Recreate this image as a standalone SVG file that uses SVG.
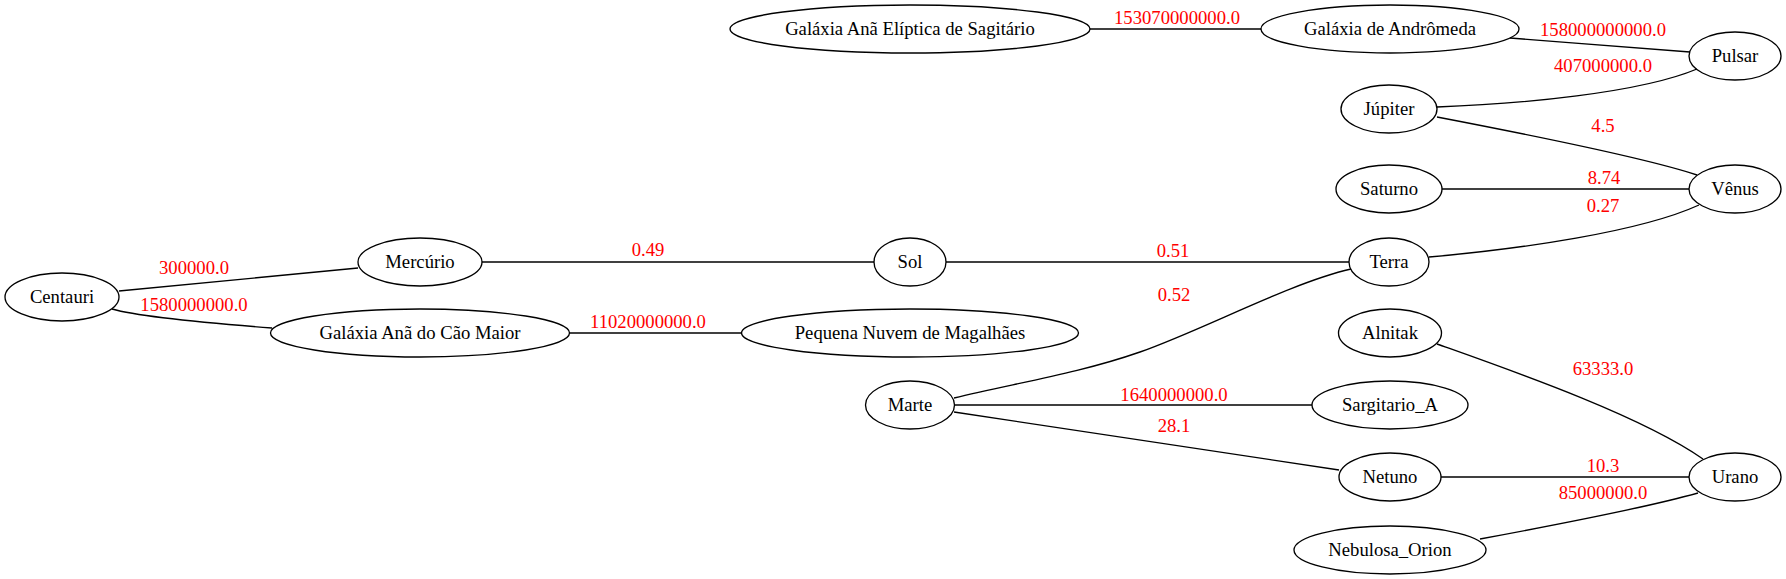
<svg xmlns="http://www.w3.org/2000/svg" width="1786" height="579" viewBox="0 0 1786 579">
<style>
.n ellipse{fill:none;stroke:#000;stroke-width:1.33}
.n text{font-family:"Liberation Serif","Times New Roman",serif;font-size:18.67px;fill:#000;text-anchor:middle}
#edges path{fill:none;stroke:#000;stroke-width:1.33}
#edges text{font-family:"Liberation Serif","Times New Roman",serif;font-size:18.67px;fill:#ff0000;text-anchor:middle}
</style>
<rect width="1786" height="579" fill="#fff"/>
<g id="edges">
<path d="M1090,29 L1261,29"/>
<text x="1177" y="24">153070000000.0</text>
<path d="M1510,38 C1570,43 1640,48 1690,52"/>
<text x="1603" y="36">158000000000.0</text>
<path d="M1437,107 C1520,104 1640,93 1697,69"/>
<text x="1603" y="72">407000000.0</text>
<path d="M1437,117 C1510,131 1640,156 1697,175"/>
<text x="1603" y="132">4.5</text>
<path d="M1442,189 L1689,189"/>
<text x="1604" y="184">8.74</text>
<path d="M1429,257 C1520,249 1640,232 1699,205"/>
<text x="1603" y="212">0.27</text>
<path d="M946,262 L1349,262"/>
<text x="1173" y="257">0.51</text>
<path d="M482,262 L874,262"/>
<text x="648" y="256">0.49</text>
<path d="M119,291 L358,268"/>
<text x="194" y="274">300000.0</text>
<path d="M112,309 C140,317 220,324 272,328"/>
<text x="194" y="311">1580000000.0</text>
<path d="M569,333 L742,333"/>
<text x="648" y="328">11020000000.0</text>
<path d="M954,398 C1016,383 1080,373 1140,352 C1205,329 1290,283 1351,269"/>
<text x="1174" y="301">0.52</text>
<path d="M955,405 L1312,405"/>
<text x="1174" y="401">1640000000.0</text>
<path d="M954,412 L1339,470"/>
<text x="1174" y="432">28.1</text>
<path d="M1437,344 C1510,370 1640,415 1703,459"/>
<text x="1603" y="375">63333.0</text>
<path d="M1441,477 L1689,477"/>
<text x="1603" y="472">10.3</text>
<path d="M1480,539 C1550,526 1645,508 1698,493"/>
<text x="1603" y="499">85000000.0</text>
</g>
<g id="sagitario" class="n"><ellipse cx="910" cy="29" rx="180" ry="24"/><text x="910" y="34.6">Galáxia Anã Elíptica de Sagitário</text></g>
<g id="andromeda" class="n"><ellipse cx="1390" cy="29" rx="129" ry="24"/><text x="1390" y="34.6">Galáxia de Andrômeda</text></g>
<g id="pulsar" class="n"><ellipse cx="1735" cy="56" rx="46" ry="24"/><text x="1735" y="61.6">Pulsar</text></g>
<g id="jupiter" class="n"><ellipse cx="1389" cy="109" rx="48" ry="24"/><text x="1389" y="114.6">Júpiter</text></g>
<g id="saturno" class="n"><ellipse cx="1389" cy="189" rx="53" ry="24"/><text x="1389" y="194.6">Saturno</text></g>
<g id="venus" class="n"><ellipse cx="1735" cy="189" rx="46" ry="24"/><text x="1735" y="194.6">Vênus</text></g>
<g id="terra" class="n"><ellipse cx="1389" cy="262" rx="40" ry="24"/><text x="1389" y="267.6">Terra</text></g>
<g id="sol" class="n"><ellipse cx="910" cy="262" rx="36" ry="24"/><text x="910" y="267.6">Sol</text></g>
<g id="mercurio" class="n"><ellipse cx="420" cy="262" rx="62" ry="24"/><text x="420" y="267.6">Mercúrio</text></g>
<g id="centauri" class="n"><ellipse cx="62" cy="297" rx="57" ry="24"/><text x="62" y="302.6">Centauri</text></g>
<g id="cao_maior" class="n"><ellipse cx="420" cy="333" rx="149.5" ry="24"/><text x="420" y="338.6">Galáxia Anã do Cão Maior</text></g>
<g id="pequena_nuvem" class="n"><ellipse cx="910" cy="333" rx="168.5" ry="24"/><text x="910" y="338.6">Pequena Nuvem de Magalhães</text></g>
<g id="alnitak" class="n"><ellipse cx="1390" cy="333" rx="51.5" ry="24"/><text x="1390" y="338.6">Alnitak</text></g>
<g id="marte" class="n"><ellipse cx="910" cy="405" rx="44.5" ry="24"/><text x="910" y="410.6">Marte</text></g>
<g id="sargitario_a" class="n"><ellipse cx="1390" cy="405" rx="78" ry="24"/><text x="1390" y="410.6">Sargitario_A</text></g>
<g id="netuno" class="n"><ellipse cx="1390" cy="477" rx="51" ry="24"/><text x="1390" y="482.6">Netuno</text></g>
<g id="urano" class="n"><ellipse cx="1735" cy="477" rx="46" ry="24"/><text x="1735" y="482.6">Urano</text></g>
<g id="nebulosa_orion" class="n"><ellipse cx="1390" cy="550" rx="96" ry="24"/><text x="1390" y="555.6">Nebulosa_Orion</text></g>
</svg>
